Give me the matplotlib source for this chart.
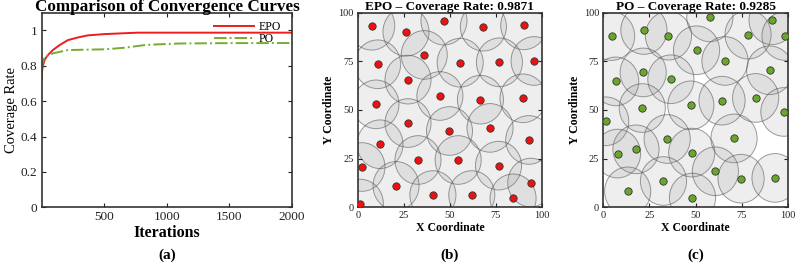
import matplotlib
matplotlib.use("Agg")
import matplotlib.pyplot as plt
from matplotlib.patches import Circle

plt.rcParams['font.family'] = ['Liberation Serif', 'DejaVu Serif']

# ---- Convergence data (a) ----
epo_iter = [1, 2, 10, 25, 50, 90, 144, 210, 290, 370, 503, 663, 770, 2000]
epo_cov = [0.72, 0.76, 0.80, 0.835, 0.860, 0.889, 0.917, 0.945, 0.960, 0.972, 0.979, 0.984, 0.9871, 0.9871]
po_iter = [1, 5, 24, 90, 210, 503, 663, 823, 930, 1105, 1500, 2000]
po_cov = [0.776, 0.81, 0.851, 0.870, 0.889, 0.893, 0.902, 0.917, 0.921, 0.926, 0.928, 0.9285]

# ---- Node positions (b) EPO ----
epo_x = [7.6, 26.2, 46.8, 68.2, 90.1, 36.1, 10.8, 55.6, 76.9, 95.7, 27.3, 44.6, 66.6, 89.7, 9.9,
         27.3, 49.8, 71.8, 12.1, 92.8, 32.7, 54.5, 76.4, 2.3, 20.8, 93.9, 40.8, 61.9, 84.3, 1.4]
epo_y = [93.3, 90.2, 95.9, 92.8, 93.5, 78.3, 73.5, 74.3, 74.5, 75.2, 65.6, 57.2, 55.3, 56.0, 52.9,
         43.3, 39.2, 40.8, 32.4, 34.6, 24.3, 24.3, 21.4, 20.7, 11.0, 12.7, 6.3, 6.3, 4.6, 1.9]
# ---- Node positions (c) PO ----
po_x = [4.5, 22.0, 35.3, 57.7, 78.4, 91.4, 98.4, 50.5, 65.9, 21.6, 36.6, 6.7, 90.1, 82.5, 64.3,
        47.4, 21.1, 1.3, 97.8, 34.6, 70.8, 17.7, 7.7, 47.9, 60.7, 74.6, 93.0, 32.6, 13.2, 48.3]
po_y = [88.0, 91.1, 88.2, 97.6, 88.7, 96.1, 88.0, 80.7, 75.2, 69.3, 65.8, 64.7, 70.4, 56.2, 54.8,
        52.4, 51.0, 44.2, 49.0, 35.1, 35.4, 29.8, 27.6, 28.1, 18.5, 14.7, 15.1, 13.5, 8.2, 5.0]
sensing_radius = 12.5
epo_title = "EPO – Coverage Rate: 0.9871"
po_title = "PO – Coverage Rate: 0.9285"

fig = plt.figure(figsize=(7.96, 2.69), dpi=100)


def style_axes(ax, fs):
    ax.tick_params(direction='in', length=3, width=0.8, top=True, right=True,
                   labelsize=fs, colors='#222222', pad=3)
    for s in ax.spines.values():
        s.set_linewidth(1.2)
        s.set_color('#333333')

# (a)
axA = fig.add_axes([0.0524, 0.2294, 0.3145, 0.7234])
axA.plot(epo_iter, epo_cov, color='#ee1c1c', lw=1.4, label='EPO')
axA.plot(po_iter, po_cov, color='#77ac30', lw=1.4, ls='-.', label='PO')
axA.set_xlim(1, 2000)
axA.set_ylim(0, 1.1)
axA.set_xticks([500, 1000, 1500, 2000])
axA.set_yticks([0, 0.2, 0.4, 0.6, 0.8, 1])
axA.set_yticklabels(['0', '0.2', '0.4', '0.6', '0.8', '1'])
style_axes(axA, 9.5)
axA.set_xlabel('Iterations', fontsize=11.5, fontweight='bold', labelpad=1)
axA.set_ylabel('Coverage Rate', fontsize=10.5, labelpad=2)
axA.set_title('Comparison of Convergence Curves', fontsize=12.3, fontweight='bold', pad=1.5)
axA.legend(loc='upper right', frameon=False, fontsize=8.5, handlelength=3.4,
           bbox_to_anchor=(0.985, 0.995), borderaxespad=0.2, labelspacing=0.0, handletextpad=0.4)


def coverage_panel(rect, xs, ys, color, title):
    ax = fig.add_axes(rect)
    for x, y in zip(xs, ys):
        ax.add_patch(Circle((x, y), sensing_radius, facecolor=(0.5, 0.5, 0.5, 0.13),
                            edgecolor=(0.3, 0.3, 0.3, 0.55), lw=0.7))
    ax.scatter(xs, ys, s=28, c=color, edgecolors='#333333', linewidths=0.6, zorder=3)
    ax.set_xlim(0, 100)
    ax.set_ylim(0, 100)
    ax.set_xticks([0, 25, 50, 75, 100])
    ax.set_yticks([0, 25, 50, 75, 100])
    style_axes(ax, 7.5)
    ax.set_xlabel('X Coordinate', fontsize=8.5, fontweight='bold', labelpad=1)
    ax.set_ylabel('Y Coordinate', fontsize=8.5, fontweight='bold', labelpad=2)
    ax.set_title(title, fontsize=9.5, fontweight='bold', pad=2)
    return ax

coverage_panel([0.4494, 0.2294, 0.2315, 0.7234], epo_x, epo_y, '#ee1111', epo_title)
coverage_panel([0.7579, 0.2294, 0.2320, 0.7234], po_x, po_y, '#6aa62a', po_title)

for xc, t in [(0.2097, '(a)'), (0.5651, '(b)'), (0.8739, '(c)')]:
    fig.text(xc, 1 - 255 / 269, t, ha='center', va='center', fontsize=11, fontweight='bold')

fig.savefig('out.png', dpi=100)
